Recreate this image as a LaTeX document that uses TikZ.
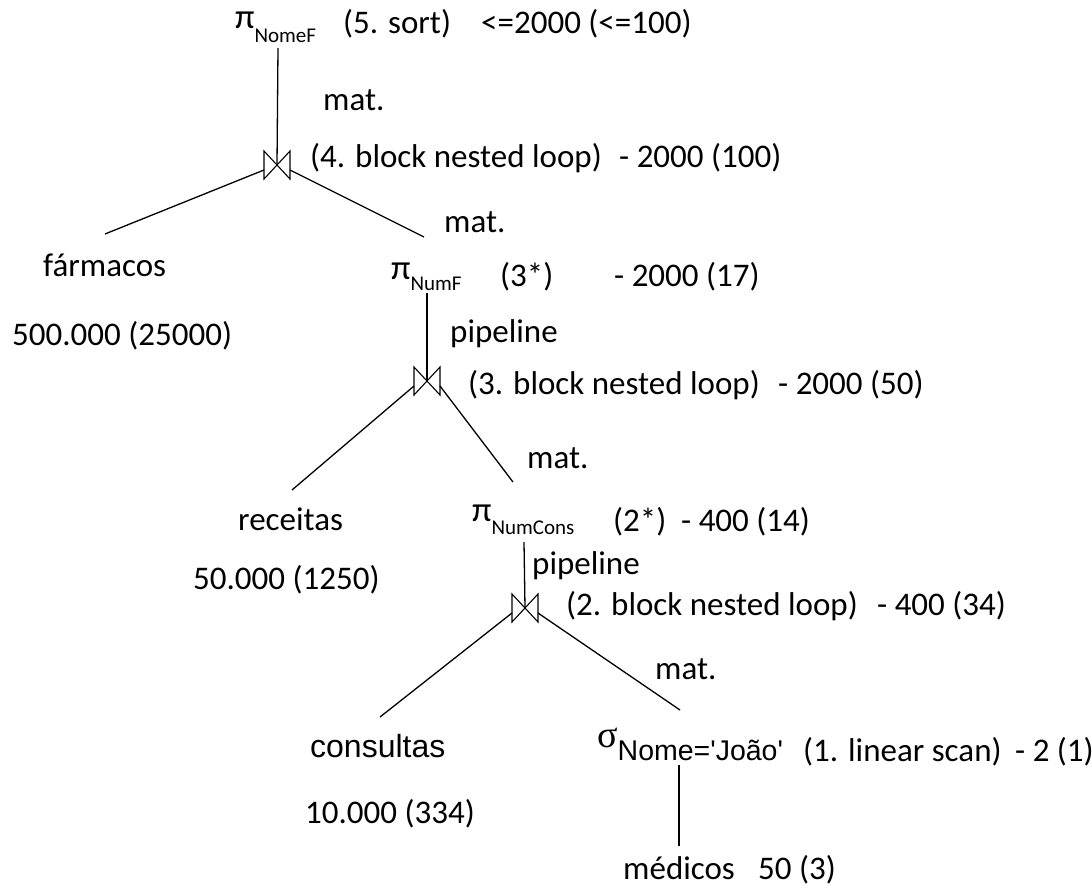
\documentclass[tikz,border=0pt]{standalone}
\usepackage{fontspec}
\setmainfont{Carlito}
\newfontfamily\arialf{Liberation Sans}
\newfontfamily\timesf{Liberation Serif}
\usetikzlibrary{calc}
\newcommand{\pisub}[2]{{\fontsize{35}{35}\selectfont π}\raisebox{-#2pt}{\fontsize{21}{21}\selectfont #1}}
\begin{document}
\begin{tikzpicture}[x=1pt,y=-1pt,
  lbl/.style={anchor=base west,inner sep=0pt,font=\fontsize{33}{38}\selectfont},
  ln/.style={line width=1.3pt,black},
  bowtie/.style={line width=1.1pt,black}]
\useasboundingbox (0,0) rectangle (1092,892);
% ---- top projection
\node[lbl] (p5) at (235,28) {\pisub{NomeF}{14}};
\node[lbl] (alg5) at (343,33) {(5. sort)};
\node[lbl] (cost5) at (481,33) {<=2000 (<=100)};
\node[lbl] (mat1) at (323,110) {mat.};
% ---- join 4
\coordinate (j4) at (277,165);
\node[lbl] (alg4) at (310,167) {(4. block nested loop)};
\node[lbl] (cost4) at (619,167) {- 2000 (100)};
\node[lbl] (mat2) at (444,232) {mat.};
\node[lbl] (farm) at (43,276) {fármacos};
\node[lbl] (num5) at (12,345) {500.000 (25000)};
\node[lbl] (p3) at (391,279) {\pisub{NumF}{11}};
\node[lbl] (star3) at (500,286) {(3*)};
\node[lbl] (cost3) at (614,286) {- 2000 (17)};
\node[lbl] (pipe1) at (450,342) {pipeline};
% ---- join 3
\coordinate (j3) at (427,381);
\node[lbl] (alg3) at (468,394) {(3. block nested loop)};
\node[lbl] (cost3b) at (778,394) {- 2000 (50)};
\node[lbl] (mat3) at (527,468) {mat.};
\node[lbl] (rec) at (238,530) {receitas};
\node[lbl] (num4) at (193,589) {50.000 (1250)};
\node[lbl] (p2) at (472,521) {\pisub{NumCons}{13}};
\node[lbl] (star2) at (613,531) {(2*)};
\node[lbl] (cost2) at (681,531) {- 400 (14)};
\node[lbl] (pipe2) at (532,574) {pipeline};
% ---- join 2
\coordinate (j2) at (525,608);
\node[lbl] (alg2) at (566,615) {(2. block nested loop)};
\node[lbl] (cost2b) at (877,615) {- 400 (34)};
\node[lbl] (mat4) at (655,679) {mat.};
\node[lbl,font=\arialf\fontsize{32}{36}\selectfont] (cons) at (310,757) {consultas};
\node[lbl] (num3) at (305,823) {10.000 (334)};
\node[lbl] (sel) at (597,747) {{\timesf\fontsize{38}{38}\selectfont σ}\raisebox{-13pt}{\arialf\fontsize{28.5}{30}\selectfont Nome=\textquotesingle João\textquotesingle}};
\node[lbl] (alg1) at (803,761) {(1. linear scan)};
\node[lbl] (cost1) at (1015,761) {- 2 (1)};
\node[lbl] (med) at (623,879) {médicos};
\node[lbl] (num1) at (758,879) {50 (3)};
% ---- connector end points
\coordinate (t5) at (278,48);
\coordinate (e4l) at (105,234);
\coordinate (e4r) at (424,237);
\coordinate (t3) at (427,293);
\coordinate (e3l) at (292,490);
\coordinate (e3r) at (513,482);
\coordinate (t2) at (524,542);
\coordinate (e2l) at (380,717);
\coordinate (e2r) at (680,710);
\coordinate (t1) at (679,765);
\coordinate (b1) at (679,846);
% ---- bowties
\foreach \j in {j4,j3,j2}{
  \draw[bowtie] ($(\j)+(-13,-14)$) -- ($(\j)+(-13,14)$) -- (\j) -- cycle;
  \draw[bowtie] ($(\j)+(13,-14)$) -- ($(\j)+(13,14)$) -- (\j) -- cycle;
}
% ---- connectors
\draw[ln] (t5) -- (j4);
\draw[ln] ($(j4)+(-13,5)$) -- (e4l);
\draw[ln] ($(j4)+(13,5)$) -- (e4r);
\draw[ln] (t3) -- (j3);
\draw[ln] ($(j3)+(-13,5)$) -- (e3l);
\draw[ln] ($(j3)+(13,5)$) -- (e3r);
\draw[ln] (t2) -- (j2);
\draw[ln] ($(j2)+(-13,5)$) -- (e2l);
\draw[ln] ($(j2)+(13,5)$) -- (e2r);
\draw[ln] (t1) -- (b1);
\end{tikzpicture}
\end{document}
